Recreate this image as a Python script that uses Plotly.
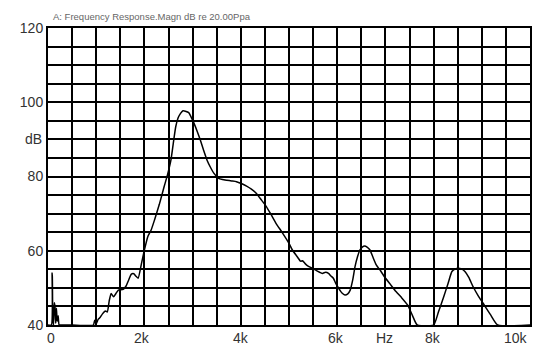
import plotly.graph_objects as go

# Frequency response curve (kHz, dB)
freq_khz = [
    0.0, 0.07, 0.085, 0.09, 0.1, 0.115, 0.13, 0.145, 0.16, 0.175,
    0.19, 0.21, 0.23, 0.26, 0.5, 0.94, 0.97, 1.0, 1.04, 1.08,
    1.13, 1.19, 1.23, 1.27, 1.31, 1.36, 1.41, 1.46, 1.56, 1.62,
    1.66, 1.73, 1.78, 1.82, 1.87, 1.94, 2.0, 2.07, 2.14, 2.21,
    2.31, 2.41, 2.48, 2.55, 2.6, 2.65, 2.7, 2.75, 2.8, 2.85,
    2.92, 2.97, 3.03, 3.1, 3.16, 3.23, 3.3, 3.37, 3.44, 3.54,
    3.62, 3.71, 3.81, 3.91, 4.01, 4.12, 4.22, 4.32, 4.42, 4.53,
    4.63, 4.73, 4.87, 5.0, 5.07, 5.17, 5.24, 5.28, 5.33, 5.38,
    5.48, 5.58, 5.69, 5.76, 5.82, 5.87, 5.92, 5.97, 6.03, 6.1,
    6.16, 6.22, 6.27, 6.32, 6.37, 6.42, 6.47, 6.52, 6.57, 6.62,
    6.68, 6.74, 6.81, 6.9, 6.98, 7.1, 7.22, 7.34, 7.46, 7.56,
    7.66, 8.0, 8.1, 8.21, 8.3, 8.38, 8.45, 8.51, 8.58, 8.65,
    8.73, 8.82, 8.92, 9.03, 9.18, 9.33, 10.0,
]
level_db = [
    40, 40, 54, 53, 42, 40, 46, 45, 40.5, 44.5,
    41, 42.5, 40, 40, 40, 40, 41.3, 40.3, 41.5, 42,
    43, 43.8, 43.5, 46.5, 48.5, 47.6, 48.5, 49.4, 49.6, 50.5,
    51.7, 53.7, 53.8, 53.2, 52.6, 56.6, 60.2, 63.8, 65.6, 68.3,
    72.5, 77.3, 80.5, 84.4, 89, 93.4, 95.8, 97, 97.7, 97.6,
    97.2, 96, 94.3, 92, 89.8, 87, 84.4, 82.5, 80.9, 79.5,
    79.2, 79, 78.8, 78.6, 78.1, 77.4, 76.6, 75.5, 73.8, 71.9,
    69.7, 67.4, 64.7, 62, 60.2, 58.4, 57.2, 57.3, 56.6, 56,
    55.3, 54.6, 53.9, 54.2, 53.9, 53.2, 52.6, 51.2, 49.9, 48.6,
    48.1, 48.4, 49.4, 52, 55.7, 58.3, 60.2, 61, 61.3, 61,
    60.2, 58.3, 56.2, 54.6, 53, 51, 49, 47.3, 45.4, 42.6,
    40, 40, 43.5, 47.6, 51.2, 54.4, 55.1, 55.3, 55.1, 54.4,
    52.8, 50.3, 48, 45.8, 42.8, 40, 40,
]

# Axis labelling
y_grid = list(range(40, 121, 5))
y_labels = {40: "40", 60: "60", 80: "80", 100: "100", 120: "120"}
x_grid = [i * 0.5 for i in range(21)]
x_label_text = ["0", "2k", "4k", "6k", "Hz", "8k", "10k"]
x_label_pos = [0.06, 1.94, 4.0, 5.97, 6.98, 7.99, 9.71]
title_text = "A: Frequency Response.Magn dB re 20.00Ppa"
y_unit = "dB"

FONT = "Liberation Sans, Arial, Helvetica, sans-serif"

fig = go.Figure()
fig.add_trace(go.Scatter(
    x=freq_khz, y=level_db, mode="lines",
    line=dict(color="black", width=1.5, shape="spline", smoothing=0.5),
    showlegend=False, hoverinfo="skip",
))

for txt, pos in zip(x_label_text, x_label_pos):
    fig.add_annotation(x=pos, y=0, xref="x", yref="paper", text=txt,
                       showarrow=False, yanchor="top", yshift=-3,
                       font=dict(family=FONT, size=14, color="#333333"))

fig.add_annotation(x=0.006, y=1, xref="paper", yref="paper", text=title_text,
                   showarrow=False, xanchor="left", yanchor="bottom", yshift=4,
                   font=dict(family=FONT, size=9.5, color="#666666"))
fig.add_annotation(x=-0.03, y=90, xref="paper", yref="y", text=y_unit,
                   showarrow=False, xanchor="center",
                   font=dict(family=FONT, size=14, color="#333333"))

# page body has an 8px margin, so the figure is shifted by 8px
fig.update_layout(
    width=552, height=355, autosize=False,
    margin=dict(l=34, r=30, t=20, b=38),
    paper_bgcolor="white", plot_bgcolor="white",
    font=dict(family=FONT, size=14, color="#333333"),
    xaxis=dict(
        range=[0, 10], tickmode="array", tickvals=x_grid, showticklabels=False,
        showgrid=True, gridcolor="black", gridwidth=1.6,
        showline=True, linecolor="black", linewidth=2, mirror=True,
        zeroline=False, ticks="",
    ),
    yaxis=dict(
        range=[40, 120], tickmode="array", tickvals=y_grid,
        ticktext=[y_labels.get(v, "") for v in y_grid],
        showgrid=True, gridcolor="black", gridwidth=1.6,
        showline=True, linecolor="black", linewidth=2, mirror=True,
        zeroline=False, ticks="",
        tickfont=dict(family=FONT, size=14, color="#333333"),
    ),
)

fig.write_html("out.html")
